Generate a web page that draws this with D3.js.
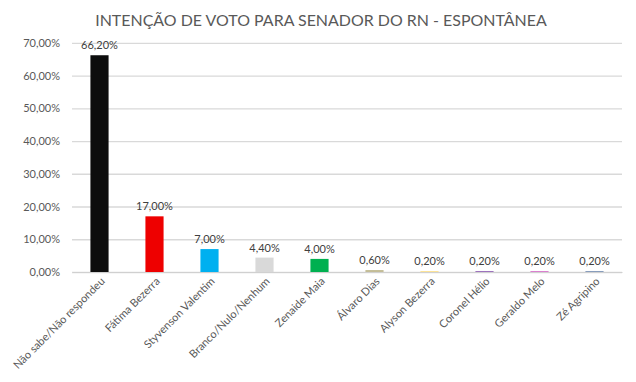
<!DOCTYPE html>
<html><head><meta charset="utf-8">
<script src="https://cdn.jsdelivr.net/npm/d3@7"></script>
<style>
body{margin:0;background:#fff;}
text{font-family:"Lato","Open Sans",sans-serif;}
</style></head>
<body><svg id="c" width="636" height="382"></svg>
<script>
const categories = ["Não sabe/Não respondeu","Fátima Bezerra","Styvenson Valentim","Branco/Nulo/Nenhum","Zenaide Maia","Álvaro Dias","Alyson Bezerra","Coronel Hélio","Geraldo Melo","Zé Agripino"];
const values = [66.2, 17.0, 7.0, 4.4, 4.0, 0.6, 0.2, 0.2, 0.2, 0.2];
const colors = ["#0d0d0d","#ee0000","#00b0f0","#d9d9d9","#00b050","#c4bd97","#ffd966","#7030a0","#cc44bb","#4f6f9f"];
const yTicks = [0,10,20,30,40,50,60,70];
const title = "INTENÇÃO DE VOTO PARA SENADOR DO RN - ESPONTÂNEA";

const fmt = v => v.toFixed(2).replace(".", ",") + "%";
const svg = d3.select("#c");
const mLeft = 72, mRight = 622, mTop = 42.8, mBottom = 272;

const x = d3.scaleBand().domain(categories).range([mLeft, mRight]).paddingInner(0.67).paddingOuter(0.335);
const y = d3.scaleLinear().domain([0, 70]).range([mBottom, mTop]);

const t = svg.append("text").attr("x", 321).attr("y", 26).attr("text-anchor","middle")
  .attr("font-size", 18.5).attr("fill","#595959").text(title);
// fit title width to the reference span
const tw = t.node().getComputedTextLength();
t.attr("font-size", 18.5 * 452 / tw);

const yAxis = d3.axisLeft(y).tickValues(yTicks).tickFormat(fmt).tickSize(-(mRight-mLeft)).tickPadding(12);
const ga = svg.append("g").attr("transform",`translate(${mLeft},0)`).call(yAxis);
ga.select(".domain").remove();
ga.selectAll(".tick line").attr("stroke","#d9d9d9").attr("stroke-width",1.3);
ga.selectAll(".tick text").attr("fill","#595959").attr("font-size",11).attr("font-family","Lato");

svg.append("g").selectAll("rect").data(values).join("rect")
  .attr("x",(d,i)=>x(categories[i])).attr("width",x.bandwidth())
  .attr("y",d=>y(d)).attr("height",d=>Math.max(1.5,y(0)-y(d)))
  .attr("fill",(d,i)=>colors[i]);

svg.append("g").selectAll("text").data(values).join("text")
  .attr("x",(d,i)=>x(categories[i])+x.bandwidth()/2).attr("y",d=>y(d)-6)
  .attr("text-anchor","middle").attr("font-size",11).attr("fill","#404040").text(d=>fmt(d));

const xAxis = d3.axisBottom(x).tickSize(0).tickPadding(0);
const gx = svg.append("g").attr("transform",`translate(0,${mBottom})`).call(xAxis);
gx.select(".domain").attr("stroke","#d0d0d0");
gx.selectAll(".tick text").attr("fill","#595959").attr("font-size",11).attr("font-family","Lato")
  .attr("text-anchor","end").attr("dy",0).attr("dx",0)
  .attr("transform","translate(6,10) rotate(-45)");
</script></body></html>
